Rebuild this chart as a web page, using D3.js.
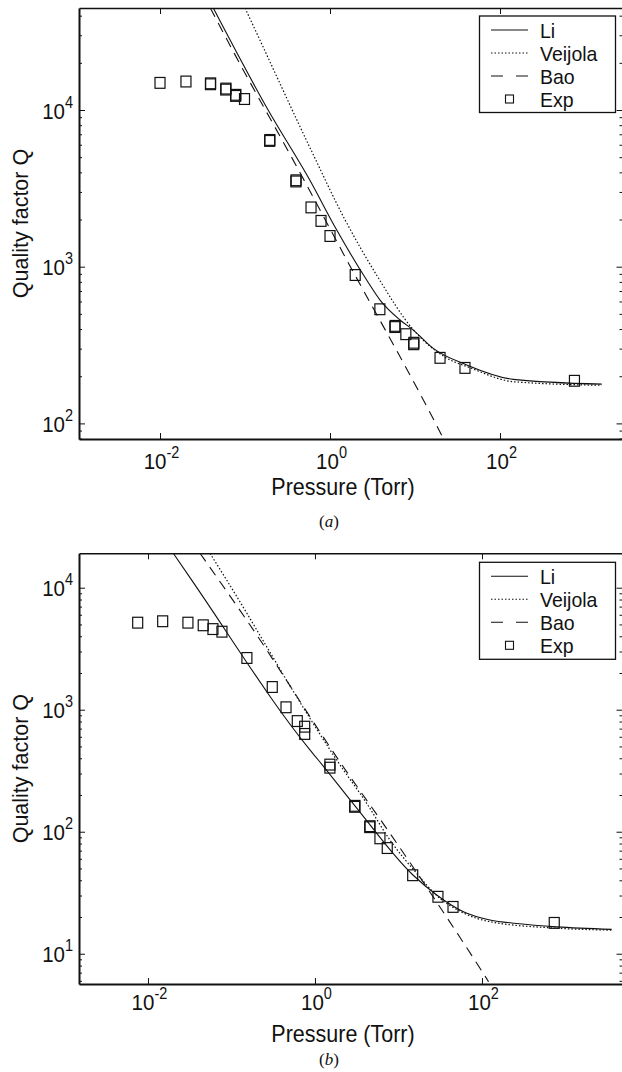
<!DOCTYPE html>
<html>
<head>
<meta charset="utf-8">
<script src="https://cdn.jsdelivr.net/npm/d3@7"></script>
<style>
  body { margin: 0; background: #fff; }
  svg { display: block; }
  text { font-family: "Liberation Sans", Arial, Helvetica, sans-serif; fill: #111; }
</style>
</head>
<body>
<svg id="fig" width="622" height="1072"></svg>
<script>
// ---- Panel (a): quality factor vs. pressure ----
const expA = [
  [0.01, 14900], [0.0202, 15200], [0.0394, 14800], [0.0392, 14600],
  [0.0597, 13700], [0.0593, 13500], [0.078, 12500], [0.0775, 12300],
  [0.0986, 11750], [0.196, 6440], [0.195, 6350], [0.399, 3560], [0.397, 3500],
  [0.598, 2390], [0.784, 1960], [1.0, 1570], [1.98, 885], [3.86, 535],
  [5.84, 419], [5.8, 412], [7.8, 371], [9.7, 327], [9.65, 320],
  [19.7, 262], [38.7, 226], [751, 187]
];
const liA = [
  [0.0423, 44800], [0.187, 10000], [0.58, 3560], [1.2, 1714], [2.7, 822],
  [3.88, 612], [6.66, 457], [9.55, 394], [16.4, 301], [40.6, 236],
  [143.5, 191], [1570, 178]
];
const veijolaA = [
  [0.1, 44800], [0.132, 32400], [0.598, 5560], [1.47, 2037], [3.63, 863],
  [9.4, 400], [22, 267], [45, 226], [145, 184.5], [1570, 175]
];
const baoA = [
  [0.039, 44800], [0.0767, 22400], [0.406, 4350], [1.43, 1216], [21.4, 80.4], [24, 71]
];

// ---- Panel (b) ----
const expB = [
  [0.00753, 5170], [0.015, 5310], [0.0301, 5170], [0.0459, 4920], [0.06, 4580],
  [0.0769, 4360], [0.153, 2655], [0.308, 1535], [0.45, 1047], [0.614, 807],
  [0.753, 726], [0.753, 633], [1.51, 355], [1.51, 335], [3.01, 163], [2.99, 160],
  [4.56, 111], [4.53, 109], [6.0, 88.3], [7.34, 73.5], [14.8, 44], [29.7, 29.3],
  [45, 24.2], [734, 17.9]
];
const liB = [
  [0.0201, 19140], [0.0334, 11540], [0.871, 468], [1.096, 387], [3.01, 163],
  [15, 44], [28.7, 30.3], [59.9, 22.1], [124.7, 18.9], [260, 17.7],
  [785, 16.6], [3575, 15.85]
];
const veijolaB = [
  [0.0553, 19140], [0.0876, 11560], [0.871, 850], [1.82, 387], [4.16, 171],
  [7.91, 85.5], [16.5, 45.6], [28.7, 30], [59.9, 21.6], [124.7, 18.3],
  [785, 16.2], [3575, 15.6]
];
const baoB = [
  [0.042, 19140], [0.152, 5430], [2.18, 341], [7.91, 97], [103.7, 6.9], [120, 5.9]
];

const seriesNames = ["Li", "Veijola", "Bao", "Exp"];
const xTickValues = [1e-2, 1, 1e2];
const xLabel = "Pressure (Torr)";
const yLabel = "Quality factor Q";

// ---- layout ----
const panels = [
  {
    tag: "a", left: 79, right: 622.5, top: 8, bottom: 439,
    xLog: [-2.953, 3.441], yLog: [1.9004, 4.651],
    exp: expA, li: liA, veijola: veijolaA, bao: baoA,
    legend: { x: 479.5, y: 16, w: 136, h: 96.5 },
    xLabelY: 495, tagY: 527, tickLabelY: 469
  },
  {
    tag: "b", left: 79, right: 622.5, top: 553.3, bottom: 984,
    xLog: [-2.826, 3.683], yLog: [0.752, 4.282],
    exp: expB, li: liB, veijola: veijolaB, bao: baoB,
    legend: { x: 479.5, y: 562.3, w: 136, h: 97 },
    xLabelY: 1042, tagY: 1065, tickLabelY: 1009.5
  }
];

const svg = d3.select("#fig");
const ink = "#111";
const stretch = 1.08;          // glyphs are drawn slightly tall
const dashStyles = { li: null, veijola: "1.5,2", bao: "10,7" };

// "10" with a raised exponent, placed at (x, y) in the parent's frame
function decadeText(parent, value, x, y, anchor) {
  const e = Math.round(Math.log10(value));
  const t = parent.append("text")
    .attr("transform", `translate(${x},${y}) scale(1,${stretch})`)
    .attr("text-anchor", anchor)
    .attr("font-size", 20.5);
  t.append("tspan").text("10");
  t.append("tspan").attr("font-size", 14.5).attr("dy", -10).text(String(e));
  return t;
}

panels.forEach((P, i) => {
  const g = svg.append("g");
  const x = d3.scaleLog()
    .domain([Math.pow(10, P.xLog[0]), Math.pow(10, P.xLog[1])])
    .range([P.left, P.right]);
  const y = d3.scaleLog()
    .domain([Math.pow(10, P.yLog[0]), Math.pow(10, P.yLog[1])])
    .range([P.bottom, P.top]);

  const yDecades = [];
  const yMinors = [];
  for (let d = Math.floor(P.yLog[0]); d <= Math.ceil(P.yLog[1]); d++) {
    const v = Math.pow(10, d);
    if (d >= P.yLog[0] && d <= P.yLog[1]) yDecades.push(v);
    for (let k = 2; k <= 9; k++) {
      const m = k * v;
      const lm = Math.log10(m);
      if (lm > P.yLog[0] && lm < P.yLog[1]) yMinors.push(m);
    }
  }

  // clip for model curves
  const clipId = "clip" + i;
  svg.append("clipPath").attr("id", clipId)
    .append("rect")
    .attr("x", P.left).attr("y", P.top)
    .attr("width", P.right - P.left).attr("height", P.bottom - P.top);

  // model curves
  const line = d3.line()
    .x(d => x(d[0]))
    .y(d => y(d[1]))
    .curve(d3.curveMonotoneX);

  const curves = g.append("g").attr("clip-path", `url(#${clipId})`);
  [["li", P.li], ["veijola", P.veijola], ["bao", P.bao]].forEach(([key, data]) => {
    curves.append("path")
      .datum(data)
      .attr("d", line)
      .attr("fill", "none")
      .attr("stroke", ink)
      .attr("stroke-width", key === "veijola" ? 1.2 : 1.1)
      .attr("stroke-dasharray", dashStyles[key]);
  });

  // experimental points
  const s = 10;
  g.append("g").selectAll("rect")
    .data(P.exp)
    .join("rect")
    .attr("x", d => x(d[0]) - s / 2)
    .attr("y", d => y(d[1]) - s * stretch / 2)
    .attr("width", s).attr("height", s * stretch)
    .attr("fill", "none")
    .attr("stroke", ink)
    .attr("stroke-width", 1.2);

  // axes: left (labelled), right, bottom (labelled), top
  const leftMajor = g.append("g").attr("transform", `translate(${P.left},0)`)
    .call(d3.axisLeft(y).tickValues(yDecades).tickSize(-6).tickSizeOuter(0));
  leftMajor.select(".domain").attr("stroke", ink).attr("stroke-width", 2);
  leftMajor.selectAll(".tick line").attr("stroke", ink);
  leftMajor.selectAll(".tick text").remove();
  leftMajor.selectAll(".tick").each(function(d) {
    decadeText(d3.select(this), d, -6, 8, "end");
  });

  g.append("g").attr("transform", `translate(${P.left},0)`)
    .call(d3.axisLeft(y).tickValues(yMinors).tickSize(-3).tickFormat(""))
    .call(a => a.select(".domain").remove())
    .selectAll(".tick line").attr("stroke", ink);

  const rightAxis = g.append("g").attr("transform", `translate(${P.right},0)`)
    .call(d3.axisRight(y).tickValues(yDecades).tickSize(-6).tickSizeOuter(0).tickFormat(""));
  rightAxis.select(".domain").attr("stroke", ink).attr("stroke-width", 1.5);
  rightAxis.selectAll(".tick line").attr("stroke", ink);
  g.append("g").attr("transform", `translate(${P.right},0)`)
    .call(d3.axisRight(y).tickValues(yMinors).tickSize(-3).tickFormat(""))
    .call(a => a.select(".domain").remove())
    .selectAll(".tick line").attr("stroke", ink);

  const bottomAxis = g.append("g").attr("transform", `translate(0,${P.bottom})`)
    .call(d3.axisBottom(x).tickValues(xTickValues).tickSize(-6).tickSizeOuter(0));
  bottomAxis.select(".domain").attr("stroke", ink).attr("stroke-width", 2);
  bottomAxis.selectAll(".tick line").attr("stroke", ink);
  bottomAxis.selectAll(".tick text").remove();
  bottomAxis.selectAll(".tick").each(function(d) {
    decadeText(d3.select(this), d, 1, P.tickLabelY - P.bottom, "middle");
  });

  const topAxis = g.append("g").attr("transform", `translate(0,${P.top})`)
    .call(d3.axisTop(x).tickValues(xTickValues).tickSize(-6).tickSizeOuter(0).tickFormat(""));
  topAxis.select(".domain").attr("stroke", ink).attr("stroke-width", 1.5);
  topAxis.selectAll(".tick line").attr("stroke", ink);

  // axis titles
  g.append("text")
    .attr("transform", `translate(28,${(P.top + P.bottom) / 2}) rotate(-90)`)
    .attr("text-anchor", "middle")
    .attr("font-size", 21.5)
    .text(yLabel);
  g.append("text")
    .attr("transform", `translate(343,${P.xLabelY}) scale(1,${stretch})`)
    .attr("text-anchor", "middle")
    .attr("font-size", 21.5)
    .text(xLabel);

  // panel tag, e.g. "(a)"
  const tag = g.append("text")
    .attr("x", 329).attr("y", P.tagY)
    .attr("text-anchor", "middle")
    .attr("font-size", 17)
    .style("font-family", "'Liberation Serif', 'Times New Roman', serif");
  tag.append("tspan").text("(");
  tag.append("tspan").attr("font-style", "italic").text(P.tag);
  tag.append("tspan").text(")");

  // legend
  const L = P.legend;
  const lg = g.append("g");
  lg.append("rect")
    .attr("x", L.x).attr("y", L.y).attr("width", L.w).attr("height", L.h)
    .attr("fill", "#fff").attr("stroke", ink).attr("stroke-width", 1.3);
  const rowH = 23;
  const keys = ["li", "veijola", "bao", "exp"];
  seriesNames.forEach((name, r) => {
    const cy = L.y + 14 + r * rowH;
    if (keys[r] === "exp") {
      lg.append("rect")
        .attr("x", 509.5 - 4).attr("y", cy - 4)
        .attr("width", 8).attr("height", 8)
        .attr("fill", "none").attr("stroke", ink).attr("stroke-width", 1.1);
    } else {
      lg.append("line")
        .attr("x1", 491).attr("x2", 528)
        .attr("y1", cy).attr("y2", cy)
        .attr("stroke", ink).attr("stroke-width", 1.1)
        .attr("stroke-dasharray", keys[r] === "bao" ? "12,13" : dashStyles[keys[r]]);
    }
    lg.append("text")
      .attr("transform", `translate(540,${cy + 7.5}) scale(1,${stretch})`)
      .attr("font-size", 19.5)
      .text(name);
  });
});
</script>
</body>
</html>
